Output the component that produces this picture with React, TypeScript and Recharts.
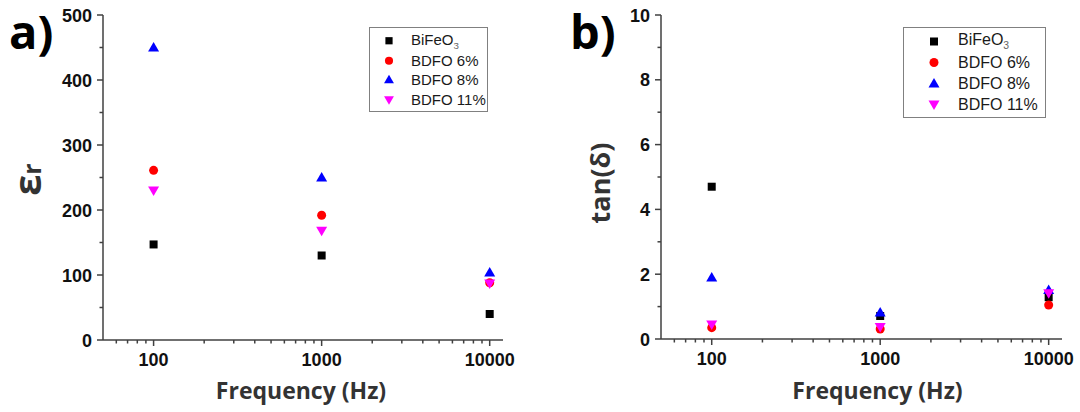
import React from "react";
import { ScatterChart, Scatter, XAxis, YAxis, Legend, Label } from "recharts";

// measured frequencies (Hz)
const frequencies = [100, 1000, 10000];

const seriesNames = ["BiFeO3", "BDFO 6%", "BDFO 8%", "BDFO 11%"];
const seriesColors = ["#000000", "#ff0000", "#0000ff", "#ff00ff"];
const seriesShapes = ["square", "circle", "triangle", "triangleDown"];

// a) relative permittivity
const epsBiFeO3 = [147, 130, 40];
const epsBdfo6 = [261, 192, 88];
const epsBdfo8 = [450, 250, 104];
const epsBdfo11 = [230, 168, 87];

// b) loss tangent
const tanBiFeO3 = [4.7, 0.71, 1.29];
const tanBdfo6 = [0.35, 0.31, 1.05];
const tanBdfo8 = [1.9, 0.82, 1.51];
const tanBdfo11 = [0.45, 0.37, 1.41];

const freqTicks = [60, 70, 80, 90, 100, 200, 300, 400, 500, 600, 700, 800, 900, 1000, 2000, 3000, 4000, 5000, 6000, 7000, 8000, 9000, 10000];
const freqLabels = [100, 1000, 10000];
const epsTicks = [0, 50, 100, 150, 200, 250, 300, 350, 400, 450, 500];
const epsLabels = [0, 100, 200, 300, 400, 500];
const tanTicks = [0, 1, 2, 3, 4, 5, 6, 7, 8, 9, 10];
const tanLabels = [0, 2, 4, 6, 8, 10];

const axisColor = "#404040";
const tickFont = "'Liberation Sans', Arial, sans-serif";
const titleFont = "'Open Sans', sans-serif";

const toPoints = (ys: number[]) => frequencies.map((f, i) => ({ f, v: ys[i] }));

function Marker({ cx, cy, kind, color, s = 1 }: any) {
  if (kind === "square") return <rect x={cx - 4 * s} y={cy - 4 * s} width={8 * s} height={8 * s} fill={color} />;
  if (kind === "circle") return <circle cx={cx} cy={cy} r={4.5 * s} fill={color} />;
  if (kind === "triangle")
    return <polygon points={`${cx},${cy - 5.5 * s} ${cx + 5.5 * s},${cy + 4 * s} ${cx - 5.5 * s},${cy + 4 * s}`} fill={color} />;
  return <polygon points={`${cx},${cy + 5.5 * s} ${cx + 5.5 * s},${cy - 4 * s} ${cx - 5.5 * s},${cy - 4 * s}`} fill={color} />;
}

const FreqTick = (props: any) => {
  const { x, y, payload } = props;
  const major = freqLabels.includes(payload.value);
  return (
    <g>
      <line x1={x} x2={x} y1={y} y2={y + (major ? 6 : 3.5)} stroke={axisColor} strokeWidth={1.5} />
      {major && (
        <text x={x} y={y + 26} textAnchor="middle" fontFamily={tickFont} fontWeight="bold" fontSize={18} fill="#111">
          {payload.value}
        </text>
      )}
    </g>
  );
};

const makeYTick = (labels: number[]) => (props: any) => {
  const { x, y, payload } = props;
  const major = labels.includes(payload.value);
  return (
    <g>
      <line x1={x} x2={x - (major ? 6 : 3.5)} y1={y} y2={y} stroke={axisColor} strokeWidth={1.5} />
      {major && (
        <text x={x - 11} y={y + 6.5} textAnchor="end" fontFamily={tickFont} fontWeight="bold" fontSize={18} fill="#111">
          {payload.value}
        </text>
      )}
    </g>
  );
};

const LegendBox = ({ width, fontSize, rowHeight, markerX, textX, s }: any) => (
  <div style={{ width, border: "1px solid #808080", background: "#fff", paddingTop: 3, paddingBottom: 2, boxSizing: "border-box" }}>
    {seriesNames.map((name, i) => (
      <div key={name} style={{ height: rowHeight, display: "flex", alignItems: "center", position: "relative" }}>
        <svg width={textX} height={rowHeight} style={{ flex: "none" }}>
          <Marker cx={markerX} cy={rowHeight / 2} kind={seriesShapes[i]} color={seriesColors[i]} s={s} />
        </svg>
        <span style={{ fontFamily: tickFont, fontSize, color: "#1a1a1a", whiteSpace: "nowrap" }}>
          {name === "BiFeO3" ? (
            <>
              BiFeO<sub style={{ fontSize: fontSize * 0.65, color: "#666" }}>3</sub>
            </>
          ) : (
            name
          )}
        </span>
      </div>
    ))}
  </div>
);

function Panel({ series, yTicks, yLabels, yMax, yTitle, titleOffset, titleDy, xTitleDx, margin, xHeight, legend, legendPos }: any) {
  const YTick = makeYTick(yLabels);
  return (
    <ScatterChart width={540} height={412} margin={margin}>
      <XAxis
        dataKey="f"
        type="number"
        scale="log"
        domain={[50, 12000]}
        allowDataOverflow
        ticks={freqTicks}
        interval={0}
        tickLine={false}
        tickSize={0}
        tickMargin={0}
        tick={<FreqTick />}
        height={xHeight}
        axisLine={{ stroke: axisColor, strokeWidth: 1.5 }}
      >
        <Label
          value="Frequency (Hz)"
          position="insideBottom"
          offset={13}
          dx={xTitleDx}
          style={{ fontFamily: titleFont, fontWeight: 700, fontSize: 23, fill: "#333" }}
        />
      </XAxis>
      <XAxis xAxisId="top" orientation="top" type="number" scale="log" domain={[50, 12000]} allowDataOverflow height={0} tick={false} tickLine={false} axisLine={{ stroke: axisColor, strokeWidth: 1.5 }} />
      <YAxis
        dataKey="v"
        type="number"
        domain={[0, yMax]}
        ticks={yTicks}
        interval={0}
        width={50}
        tickLine={false}
        tickSize={0}
        tickMargin={0}
        tick={<YTick />}
        axisLine={{ stroke: axisColor, strokeWidth: 1.5 }}
      >
        <Label
          content={(p: any) => {
            const vb = p.viewBox;
            const cx = vb.x + vb.width - titleOffset;
            const cy = vb.y + vb.height / 2 + titleDy;
            return (
              <text
                transform={`translate(${cx},${cy}) rotate(-90)`}
                textAnchor="middle"
                fontFamily={titleFont}
                fontWeight={700}
                fill="#333"
              >
                {yTitle}
              </text>
            );
          }}
        />
      </YAxis>
      <YAxis yAxisId="right" orientation="right" type="number" domain={[0, yMax]} width={0} tick={false} tickLine={false} axisLine={{ stroke: axisColor, strokeWidth: 1.5 }} />
      <Legend
        layout="vertical"
        align="center"
        verticalAlign="middle"
        wrapperStyle={{ left: legendPos.left, top: legendPos.top, width: legend.width }}
        content={() => <LegendBox {...legend} />}
      />
      {series.map((ys: number[], i: number) => (
        <Scatter
          key={seriesNames[i]}
          name={seriesNames[i]}
          data={toPoints(ys)}
          fill={seriesColors[i]}
          isAnimationActive={false}
          shape={(p: any) => <Marker cx={p.cx} cy={p.cy} kind={seriesShapes[i]} color={seriesColors[i]} />}
        />
      ))}
    </ScatterChart>
  );
}

export default function App() {
  return (
    <div style={{ position: "absolute", left: 0, top: 0, width: 1080, height: 412, background: "#fff", overflow: "hidden" }}>
      <div style={{ position: "absolute", left: 0, top: 0 }}>
        <Panel
          series={[epsBiFeO3, epsBdfo6, epsBdfo8, epsBdfo11]}
          yTicks={epsTicks}
          yLabels={epsLabels}
          yMax={500}
          titleOffset={62}
          titleDy={2}
          xTitleDx={-2}
          yTitle={
            <>
              <tspan fontSize={38}>ε</tspan>
              <tspan fontSize={25}>r</tspan>
            </>
          }
          margin={{ top: 15, right: 37, bottom: 0, left: 53 }}
          xHeight={72}
          legend={{ width: 119, fontSize: 15, rowHeight: 19.5, markerX: 19, textX: 41, s: 0.9 }}
          legendPos={{ left: 369, top: 27 }}
        />
      </div>
      <div style={{ position: "absolute", left: 540, top: 0 }}>
        <Panel
          series={[tanBiFeO3, tanBdfo6, tanBdfo8, tanBdfo11]}
          yTicks={tanTicks}
          yLabels={tanLabels}
          yMax={10}
          titleOffset={51}
          titleDy={6}
          xTitleDx={16}
          yTitle={<tspan fontSize={27}>tan(δ)</tspan>}
          margin={{ top: 15, right: 18, bottom: 0, left: 71 }}
          xHeight={73}
          legend={{ width: 143, fontSize: 16, rowHeight: 21, markerX: 30, textX: 54, s: 1 }}
          legendPos={{ left: 363, top: 27 }}
        />
      </div>
      <svg width={1080} height={70} style={{ position: "absolute", left: 0, top: 0, pointerEvents: "none" }}>
        <text x={9} y={49} fontFamily={titleFont} fontWeight={700} fontSize={47} fill="#000">a)</text>
        <text x={570} y={49} fontFamily={titleFont} fontWeight={700} fontSize={47} fill="#000">b)</text>
      </svg>
    </div>
  );
}
